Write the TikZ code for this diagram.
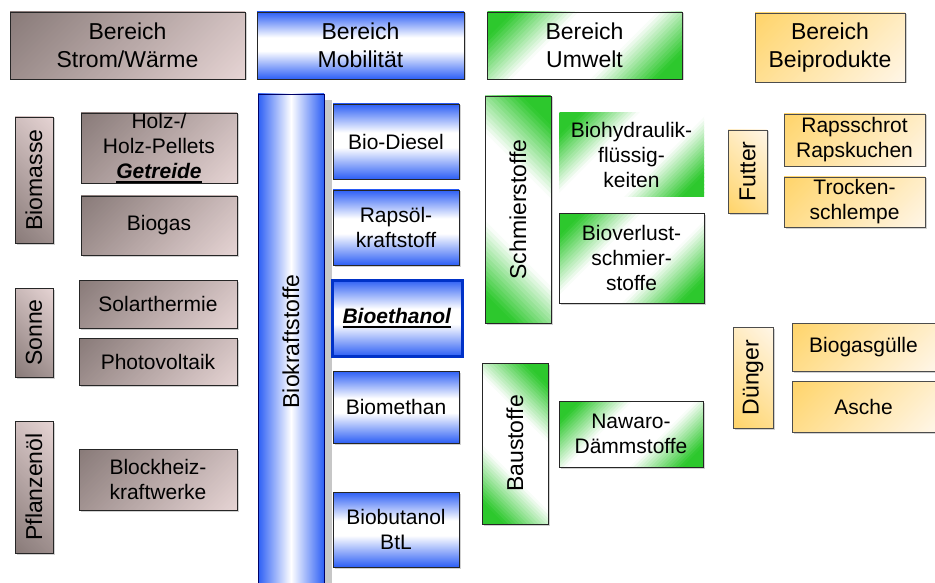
\documentclass[tikz,border=0pt]{standalone}
\usepackage{fontspec}
\setmainfont{Liberation Sans}
\usepackage{graphicx}
\usetikzlibrary{shadows}
\definecolor{brownD}{RGB}{136,122,120}
\definecolor{brownL}{RGB}{230,212,212}
\definecolor{blueC}{RGB}{45,95,245}
\definecolor{greenC}{RGB}{45,200,45}
\definecolor{orangeD}{RGB}{255,212,105}
\definecolor{orangeL}{RGB}{255,246,232}
\definecolor{ethBlue}{RGB}{0,50,200}
\pgfdeclareverticalshading{bluebox}{100bp}{color(0bp)=(blueC); color(25bp)=(blueC); color(46bp)=(white); color(56bp)=(white); color(75bp)=(blueC); color(100bp)=(blueC)}
\newcommand\myul[1]{\vtop{\hbox{#1}\kern2pt\hrule height 1.6pt}}
\newcommand\vt[1]{\rotatebox{90}{#1}}
% stripe colour for position \tpos (0..100 along the gradient axis)
\newcommand\colbrown{\colorlet{stripe}{brownD!\tpos!brownL}}
\newcommand\colorange{\colorlet{stripe}{orangeD!\tpos!orangeL}}
\newcommand\colgreen{\pgfmathsetmacro\gpct{max(0,min(100,((50-\tpos)/50-0.3)/0.5*100))}\colorlet{stripe}{greenC!\gpct!white}}
% stripes over the box centred at (\gcx,\gcy), size \gw x \gh
% #1 angle, #2 colour rule, #3 = 1: only the half with t<50
\newcommand\gstripes[3]{%
  \pgfmathsetmacro\gdx{cos(#1+90)}%
  \pgfmathsetmacro\gdy{sin(#1+90)}%
  \pgfmathsetmacro\gex{cos(#1)}%
  \pgfmathsetmacro\gey{sin(#1)}%
  \pgfmathsetmacro\gP{\gw/2*abs(\gdx)+\gh/2*abs(\gdy)}%
  \pgfmathsetmacro\gL{\gw+\gh}%
  \foreach \k in {0,...,59}{%
    \pgfmathsetmacro\tpos{(\k+0.5)*100/60}%
    \pgfmathtruncatemacro\gdraw{((#3)==0)||(\tpos<50)}%
    \ifnum\gdraw=1
      #2%
      \pgfmathsetmacro\gsa{-\gP+2*\gP*\k/60}%
      \pgfmathsetmacro\gsb{-\gP+2*\gP*(\k+1)/60+0.8}%
      \pgfmathsetmacro\qax{\gcx+(\gsa)*(\gdx)-(\gL)*(\gex)}%
      \pgfmathsetmacro\qay{\gcy+(\gsa)*(\gdy)-(\gL)*(\gey)}%
      \pgfmathsetmacro\qbx{\gcx+(\gsa)*(\gdx)+(\gL)*(\gex)}%
      \pgfmathsetmacro\qby{\gcy+(\gsa)*(\gdy)+(\gL)*(\gey)}%
      \pgfmathsetmacro\qcx{\gcx+(\gsb)*(\gdx)+(\gL)*(\gex)}%
      \pgfmathsetmacro\qcy{\gcy+(\gsb)*(\gdy)+(\gL)*(\gey)}%
      \pgfmathsetmacro\qdx{\gcx+(\gsb)*(\gdx)-(\gL)*(\gex)}%
      \pgfmathsetmacro\qdy{\gcy+(\gsb)*(\gdy)-(\gL)*(\gey)}%
      \fill[stripe] (\qax,\qay) -- (\qbx,\qby) -- (\qcx,\qcy) -- (\qdx,\qdy) -- cycle;
    \fi
  }}
% #1 node style, #2 colour rule, #3 angle, #4 name, #5 x, #6 y (top, downwards), #7 w, #8 h, #9 text
\newcommand\gnode[9]{%
  \path[boxshadow] ({#5+1.5},{-#6-1.5}) rectangle ++(#7,-#8);
  \begin{scope}
    \clip (#5,-#6) rectangle ++(#7,-#8);
    \fill[white] (#5,-#6) rectangle ++(#7,-#8);
    \pgfmathsetmacro\gcx{#5+#7/2}%
    \pgfmathsetmacro\gcy{-#6-#8/2}%
    \def\gw{#7}\def\gh{#8}%
    \ifx#2\colgreen
      \gstripes{#3}{#2}{1}%
      \gstripes{#3+180}{#2}{1}%
    \else
      \gstripes{#3}{#2}{0}%
    \fi
  \end{scope}
  \node[#1, minimum width=#7, minimum height=#8] (#4) at (#5,-#6) {#9};}
\begin{document}
\begin{tikzpicture}[x=1pt,y=1pt,
  base/.style={inner sep=0pt, outer sep=0pt, anchor=north west, align=center,
    draw=black!85, line width=0.8pt, text=black,
    font=\fontsize{21}{25}\selectfont},
  head/.style={base, font=\fontsize{23}{28}\selectfont},
  vert/.style={base, font=\fontsize{23}{28}\selectfont},
  obox/.style={base, draw=black!70},
  ohead/.style={head, draw=black!70},
  overt/.style={vert, draw=black!70},
  boxshadow/.style={fill=black!18},
  sh/.style={drop shadow={shadow xshift=1.5pt, shadow yshift=-1.5pt, fill=black!18, opacity=1}},
  blueH/.style={shade, shading=bluebox},
  blueV/.style={left color=blueC, right color=blueC, middle color=white}
]
\useasboundingbox (0,0) rectangle (935,-583);
% headers
\gnode{head}{\colbrown}{45}{hS}{10}{12}{235}{67}{Bereich\\Strom/Wärme}
\node[head, sh, blueH, minimum width=207, minimum height=67] (hM) at (257,-12) {Bereich\\Mobilität};
\gnode{head}{\colgreen}{45}{hU}{487}{12}{195}{67}{Bereich\\Umwelt}
\gnode{ohead}{\colorange}{45}{hB}{755}{13}{150}{69}{Bereich\\Beiprodukte}
% Strom/Waerme
\gnode{vert}{\colbrown}{135}{vBio}{15}{117}{38}{126}{\vt{Biomasse}}
\gnode{base}{\colbrown}{45}{holz}{81}{113}{156}{70}{Holz-/\\Holz-Pellets\\\myul{\textbf{\textit{Getreide}}}}
\gnode{base}{\colbrown}{45}{biogas}{81}{196}{156}{59}{Biogas}
\gnode{vert}{\colbrown}{135}{vSonne}{15}{288}{38}{89}{\vt{Sonne}}
\gnode{base}{\colbrown}{45}{solar}{79}{280}{158}{48}{Solarthermie}
\gnode{base}{\colbrown}{45}{photo}{79}{338}{158}{47}{Photovoltaik}
\gnode{vert}{\colbrown}{135}{vPfl}{15}{421}{38}{132}{\vt{Pflanzenöl}}
\gnode{base}{\colbrown}{45}{bhkw}{79}{449}{158}{61}{Blockheiz-\\kraftwerke}
% Mobilitaet
\node[vert, blueV, draw=blue!40!black, drop shadow={shadow xshift=8pt, shadow yshift=-6pt, fill=black!22, opacity=1}, minimum width=66, minimum height=495] (vBK) at (258,-94) {\vt{Biokraftstoffe}};
\node[base, sh, blueH, minimum width=126, minimum height=75] (diesel) at (333,-104) {Bio-Diesel};
\node[base, sh, blueH, minimum width=126, minimum height=75] (raps) at (333,-190) {Rapsöl-\\kraftstoff};
\node[base, blueH, draw=ethBlue, line width=3pt, minimum width=130, minimum height=76] (ethanol) at (332,-280) {\myul{\textbf{\textit{Bioethanol}}}};
\node[base, sh, blueH, minimum width=126, minimum height=72] (methan) at (333,-371) {Biomethan};
\node[base, sh, blueH, minimum width=126, minimum height=75] (butanol) at (333,-492) {Biobutanol\\BtL};
% Umwelt
\gnode{vert}{\colgreen}{-45}{vSchm}{485}{96}{66}{227}{\vt{Schmierstoffe}}
\begin{scope}[boxshadow/.style={}]
\gnode{base, draw=none}{\colgreen}{45}{hydr}{559}{113}{145}{84}{Biohydraulik-\\flüssig-\\keiten}
\end{scope}
\gnode{base}{\colgreen}{45}{verl}{559}{213}{145}{90}{Bioverlust-\\schmier-\\stoffe}
\gnode{vert}{\colgreen}{-45}{vBau}{482}{363}{66}{161}{\vt{Baustoffe}}
\gnode{base}{\colgreen}{45}{nawaro}{559}{401}{144}{66}{Nawaro-\\Dämmstoffe}
% Beiprodukte
\gnode{overt}{\colorange}{135}{vFutter}{728}{130}{39}{83}{\vt{Futter}}
\gnode{obox}{\colorange}{45}{rapsschrot}{784}{114}{141}{52}{Rapsschrot\\Rapskuchen}
\gnode{obox}{\colorange}{45}{trocken}{784}{177}{141}{50}{Trocken-\\schlempe}
\gnode{overt}{\colorange}{135}{vDuenger}{733}{327}{40}{101}{\vt{Dünger}}
\gnode{obox}{\colorange}{45}{guelle}{792}{323}{143}{48}{Biogasgülle}
\gnode{obox}{\colorange}{45}{asche}{792}{381}{143}{51}{Asche}
\end{tikzpicture}
\end{document}
